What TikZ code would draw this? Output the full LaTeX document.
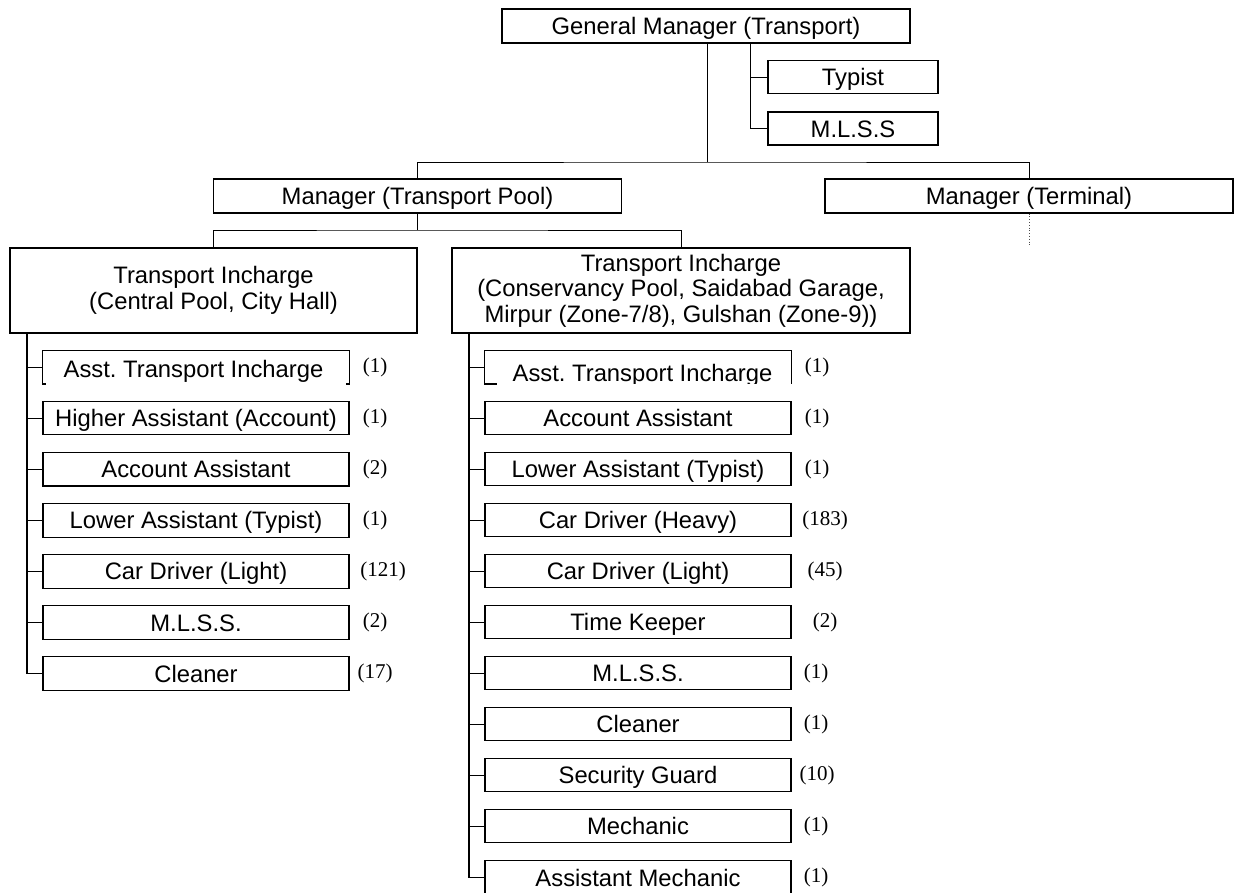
\documentclass[tikz,border=0pt]{standalone}
\usepackage{fontspec}
\setmainfont{Liberation Sans}
\newfontfamily\countfont{Liberation Serif}
\usetikzlibrary{calc}
\frenchspacing
\begin{document}
\begin{tikzpicture}[x=1pt,y=-1pt,
  labelfont/.style={font=\fontsize{23.8}{25.5}\selectfont},
  box/.style={draw, rectangle, inner sep=0pt, line width=1.1pt, minimum height=33.5pt,
    text height=17pt, text depth=0pt, labelfont},
  plain/.style={rectangle, inner sep=0pt, minimum height=33.5pt, text height=17pt, text depth=0pt, labelfont},
  head/.style={box, minimum width=408pt, minimum height=34pt},
  side/.style={box, minimum width=170pt},
  staff/.style={box, minimum width=306pt},
  tall/.style={draw, rectangle, inner sep=0pt, line width=1.1pt, minimum height=85pt, align=center, labelfont},
  count/.style={inner sep=0pt, font=\countfont\fontsize{21}{21}\selectfont, text height=14.2pt, text depth=3.7pt},
  link/.style={line width=0.9pt},
  trunk/.style={line width=1.8pt},
  outline/.style={line width=1.1pt}
]
\useasboundingbox (0,0) rectangle (1234,892);
\clip (0,0) rectangle (1234,892);
\fill[white] (0,0) rectangle (1234,892);

% top level
\node[head] (gm) at (706,26) {General Manager (Transport)};
\node[side] (typ) at (853,77) {Typist};
\node[side, minimum height=33pt] (mls) at (853,128.5) {M.L.S.S};
\node[head] (mtp) at (417.5,196) {Manager (Transport Pool)};
\node[head] (mt) at (1029,196) {Manager (Terminal)};

% personal staff of the general manager
\coordinate (j0) at ($(gm.south)+(44,0)$);
\draw[link] (j0) |- (mls.west);
\draw[link] (typ.west) -- (typ.west -| j0);

% general manager to the two managers
\coordinate (j1) at (707,162);
\draw[link] (gm.south -| j1) -- (j1);
\draw[link] (mtp.north) |- (j1) -| (mt.north);
\draw[dotted, line width=0.8pt, black!70] (mt.south) -- ++(0,33);

% transport incharges
\node[tall, minimum width=407pt] (ti1) at (213.5,290.5) {Transport Incharge\\(Central Pool, City Hall)};
\node[tall, minimum width=458pt] (ti2) at (681,290.5) {Transport Incharge\\(Conservancy Pool, Saidabad Garage,\\Mirpur (Zone-7/8), Gulshan (Zone-9))};
\coordinate (j2) at (417.5,230);
\draw[link] (mtp.south) -- (j2);
\draw[link] (ti1.north) |- (j2) -| (ti2.north);

% central pool staff
\coordinate (lbus) at (27,333);
\node[plain, minimum width=306pt] (l1) at (196,367) {};
\draw[outline] (l1.south west) ++(3,0) -- ++(-3,0) |- (l1.north east) -- (l1.south east) -- ++(-3,0);
\node[plain] (l1t) at ($(l1.center)+(-2.5,1.5)$) {Asst. Transport Incharge};
\node[count] (lc1) at (375,367) {(1)};
\draw[link] (l1.west) -- (l1.west -| lbus);
\foreach \n/\y/\t/\c/\cx in {
  2/418.1/Higher Assistant (Account)/(1)/375,
  3/469.2/Account Assistant/(2)/375,
  4/520.3/Lower Assistant (Typist)/(1)/375,
  5/571.4/Car Driver (Light)/(121)/383,
  6/622.5/M.L.S.S./(2)/375,
  7/673.6/Cleaner/(17)/375} {
  \node[staff] (l\n) at (196,\y) {\t};
  \node[count] (lc\n) at (\cx,\y) {\c};
  \draw[link] (l\n.west) -- (l\n.west -| lbus);
}
\draw[trunk] (ti1.south -| lbus) -- (l7.west -| lbus);

% conservancy pool staff
\coordinate (rbus) at (469,333);
\node[plain, minimum width=306pt] (r1) at (638,367) {};
\draw[outline] (r1.south west) ++(12,0) -- ++(-12,0) |- (r1.north east) -- (r1.south east);
\begin{scope}
  \clip (r1.north west) rectangle (r1.south east);
  \node[plain] (r1t) at ($(r1.center)+(4.5,5.5)$) {Asst. Transport Incharge};
\end{scope}
\node[count] (rc1) at (817,367) {(1)};
\draw[link] (r1.west) -- (r1.west -| rbus);
\foreach \n/\y/\t/\c/\cx in {
  2/418/Account Assistant/(1)/817,
  3/469/Lower Assistant (Typist)/(1)/817,
  4/520/Car Driver (Heavy)/(183)/825,
  5/571/Car Driver (Light)/(45)/825,
  6/622/Time Keeper/(2)/825,
  7/673/M.L.S.S./(1)/816,
  8/724/Cleaner/(1)/816,
  9/775/Security Guard/(10)/817,
  10/826/Mechanic/(1)/816,
  11/877.5/Assistant Mechanic/(1)/816} {
  \node[staff] (r\n) at (638,\y) {\t};
  \node[count] (rc\n) at (\cx,\y) {\c};
  \draw[link] (r\n.west) -- (r\n.west -| rbus);
}
\draw[trunk] (ti2.south -| rbus) -- (r11.west -| rbus);
\end{tikzpicture}
\end{document}
